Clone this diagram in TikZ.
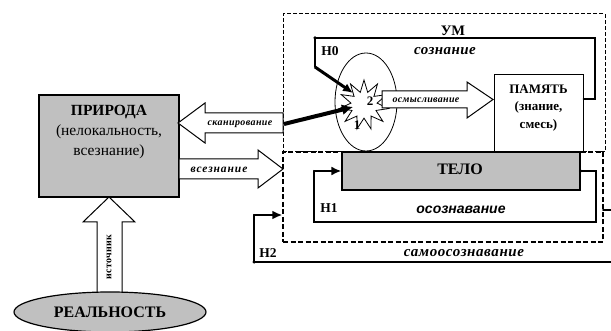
\documentclass[tikz,border=0pt]{standalone}
\usepackage{fontspec}
\setmainfont{Liberation Serif}
\newfontfamily\sansf{Liberation Sans}
\usetikzlibrary{shapes.geometric,arrows.meta,calc}
\definecolor{boxgray}{HTML}{C0C0C0}
\begin{document}
\begin{tikzpicture}[x=1pt,y=-1pt,
  thickline/.style={line width=2pt,line cap=round,line join=miter},
  blockarrow/.style={draw,line width=1pt,fill=white,line join=miter},
  lbl/.style={inner sep=0pt,font=\bfseries\itshape},
  head/.style={-{Latex[length=10pt,width=9pt]}},
  dot/.style={circle,fill,inner sep=0pt,minimum size=3.5pt}]
\useasboundingbox (0,0) rectangle (611,331);
% dashed boxes
\node[draw,line width=1pt,dash pattern=on 4pt off 2pt,minimum width=322pt,minimum height=138pt,inner sep=0] (umbox) at (444,83) {};
\node[draw,line width=1.4pt,dash pattern=on 5pt off 2.5pt,minimum width=320pt,minimum height=90pt,inner sep=0] (telobox) at (443,197) {};
% main boxes
\node[draw,line width=1.2pt,fill=boxgray,minimum width=140pt,minimum height=102pt,inner sep=0] (priroda) at (109,146) {};
\node[align=center,font=\fontsize{15.5}{20}\selectfont,inner sep=0] (pritxt) at (109,132) {\textbf{ПРИРОДА}\\(нелокальность,\\всезнание)};
\node[draw,line width=1pt,fill=white,minimum width=89pt,minimum height=77pt,inner sep=0] (pamyat) at (538.5,113.5) {};
\node[align=center,font=\bfseries\fontsize{13}{17.5}\selectfont,inner sep=0] (pamtxt) at (538.5,108) {ПАМЯТЬ\\(знание,\\смесь)};
\node[draw,line width=1.2pt,fill=boxgray,minimum width=238pt,minimum height=38pt,inner sep=0] (telo) at (461,171) {};
\node[font=\bfseries\fontsize{16}{18}\selectfont,inner sep=0] (telotxt) at (460,169) {ТЕЛО};
% source arrow and reality
\draw[blockarrow] (109,197) -- (135,222) -- (122,222) -- (122,294) -- (97,294) -- (97,222) -- (83,222) -- cycle;
\node[rotate=90,font=\bfseries\fontsize{10}{12}\selectfont\addfontfeature{LetterSpace=4},inner sep=0] (ist) at (109,257) {источник};
\node[ellipse,draw,line width=1.2pt,fill=boxgray,minimum width=192pt,minimum height=40pt,inner sep=0] (real) at (110,312) {};
\node[font=\bfseries\fontsize{16}{18}\selectfont,inner sep=0] (realtxt) at (110,312) {РЕАЛЬНОСТЬ};
% scanning and all-knowing arrows
\draw[blockarrow] (178,123) -- (205,103) -- (205,113) -- (283,113) -- (283,133) -- (205,133) -- (205,143) -- cycle;
\node[lbl,font=\bfseries\itshape\fontsize{10}{12}\selectfont\addfontfeature{LetterSpace=4}] (skan) at (240,124) {сканирование};
\draw[blockarrow] (179,159) -- (258,159) -- (258,150) -- (283,169) -- (258,188) -- (258,179) -- (179,179) -- cycle;
\node[lbl,font=\bfseries\itshape\fontsize{11.5}{13}\selectfont\addfontfeature{LetterSpace=8}] (vsez) at (219,170) {всезнание};
% oval and star
\node[ellipse,draw,line width=0.8pt,minimum width=62pt,minimum height=98pt,inner sep=0] (oval) at (366,102) {};
\node[star,star points=11,star point ratio=1.9,draw,line width=0.8pt,fill=white,minimum size=50pt,inner sep=0] (star) at (364,105) {};
\node[font=\bfseries\fontsize{13}{15}\selectfont,inner sep=0] (two) at (370,101) {2};
\node[font=\bfseries\fontsize{13}{15}\selectfont,inner sep=0] (one) at (357,125) {1};
% comprehension arrow
\draw[blockarrow] (382,91) -- (467,91) -- (467,82) -- (493,99.5) -- (467,118) -- (467,108) -- (382,108) -- cycle;
\node[lbl,font=\bfseries\itshape\fontsize{10}{12}\selectfont\addfontfeature{LetterSpace=3}] (osm) at (426,100) {осмысливание};
% thick scan arrow
\coordinate (skanend) at (284,124);
\coordinate (startip) at ([xshift=-11pt,yshift=-2pt]star.center);
\draw[line width=4pt,-{Latex[length=11pt,width=11pt]}] (skanend) -- (startip);
% H0 loop
\coordinate (h0a) at (595,38);
\coordinate (h0b) at (315,38);
\coordinate (h0c) at (315,67);
\coordinate (startop) at ([xshift=-11pt,yshift=12pt]star.center);
\draw[thickline] ([yshift=14.5pt]pamyat.east) -| (h0a) -- (h0b) -- (h0c);
\draw[line width=3pt,head] (h0c) -- (startop);
\node[dot] (h0dot) at (h0b) {};
% H1 loop
\coordinate (h1a) at (596,171);
\coordinate (h1b) at (596,222);
\coordinate (h1c) at (314,222);
\coordinate (h1d) at (314,171);
\draw[thickline] (telo.east) -- (h1a) -- (h1b) -- (h1c) -- (h1d);
\draw[thickline,head] (h1d) -- (telo.west);
\node[dot] (h1dot) at (telo.east) {};
% H2 loop
\coordinate (h2a) at (603,210);
\coordinate (h2b) at (614,210);
\coordinate (h2c) at (614,262);
\coordinate (h2d) at (254,262);
\coordinate (h2e) at (254,215);
\coordinate (h2f) at (telobox.west |- h2e);
\draw[thickline] (h2a) -- (h2b) -- (h2c) -- (h2d) -- (h2e);
\draw[thickline,head] (h2e) -- (h2f);
\node[dot] (h2dot) at (h2d) {};
% labels
\node[font=\bfseries\fontsize{14.5}{16}\selectfont,inner sep=0] (um) at (453,31) {УМ};
\node[font=\bfseries\fontsize{13.5}{15}\selectfont,inner sep=0] (h0) at (330,51) {H0};
\node[lbl,font=\bfseries\itshape\fontsize{15}{16}\selectfont\addfontfeature{LetterSpace=3}] (soz) at (445,51) {сознание};
\node[font=\bfseries\fontsize{13.5}{15}\selectfont,inner sep=0] (h1) at (329,208) {H1};
\node[inner sep=0,font=\sansf\bfseries\itshape\fontsize{14}{15}\selectfont] (osoz) at (461,210) {осознавание};
\node[font=\bfseries\fontsize{13.5}{15}\selectfont,inner sep=0] (h2) at (268,253) {H2};
\node[lbl,font=\bfseries\itshape\fontsize{15}{16}\selectfont\addfontfeature{LetterSpace=4}] (samo) at (464,253) {самоосознавание};
\end{tikzpicture}
\end{document}
